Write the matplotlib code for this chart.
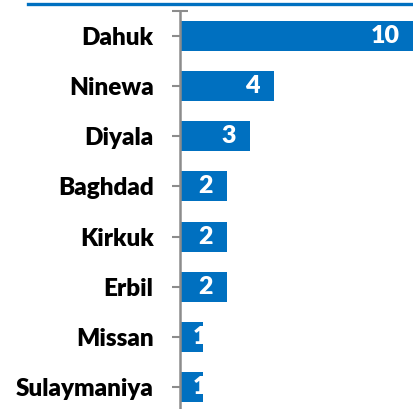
import matplotlib
matplotlib.use("Agg")
import matplotlib.pyplot as plt
from matplotlib.lines import Line2D

# data
provinces = ["Dahuk", "Ninewa", "Diyala", "Baghdad", "Kirkuk", "Erbil", "Missan", "Sulaymaniya"]
counts = [10, 4, 3, 2, 2, 2, 1, 1]

BLUE = "#0070C0"
GREY = "#8c8c8c"

plt.rcParams["font.family"] = ["Lato", "DejaVu Sans"]

W, H = 414, 409
fig = plt.figure(figsize=(W / 100, H / 100), dpi=100)
ax = fig.add_axes([180 / W, 1 - 412 / H, 1 - 180 / W, 401 / H])

ypos = list(range(len(provinces)))
bars = ax.barh(ypos, counts, height=0.6, color=BLUE, zorder=2)
for bar, y, v in zip(bars, ypos, counts):
    # short bars: label overflows the bar end and the overflow is hidden
    x = v - 0.6 if v > 1 else v + 0.15
    t = ax.text(x, y, str(v), ha="right", va="center", color="white",
                fontsize=18, fontweight="heavy", zorder=3)
    t.set_clip_path(bar)

ax.set_xlim(0, 10)
ax.set_ylim(7.5, -0.5)
ax.set_yticks(ypos)
ax.set_yticklabels(provinces, fontsize=17.5, fontweight="heavy")
ax.set_yticks([-0.5], minor=True)
ax.tick_params(axis="y", which="both", direction="inout", length=12, width=1.5,
               color=GREY, pad=13)
ax.set_xticks([])
for s in ["top", "right", "bottom"]:
    ax.spines[s].set_visible(False)
ax.spines["left"].set_color(GREY)
ax.spines["left"].set_linewidth(1.8)
ax.spines["left"].set_zorder(4)

# blue rule across the top
fig.add_artist(Line2D([28 / W, 1.0], [1 - 3.5 / H, 1 - 3.5 / H],
                      color=BLUE, linewidth=2.4, transform=fig.transFigure))

fig.savefig("out.png", dpi=100)
